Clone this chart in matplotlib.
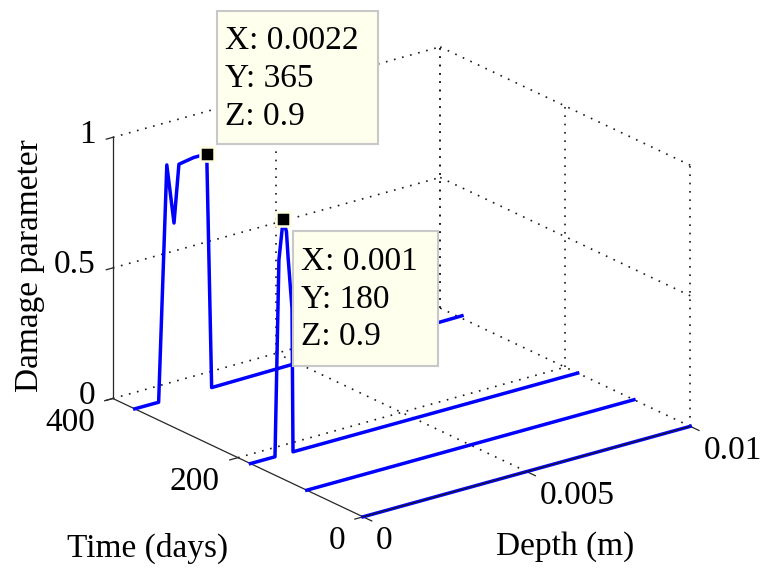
import numpy as np
import matplotlib
matplotlib.use('Agg')
import matplotlib.pyplot as plt
from matplotlib.patches import Rectangle
from mpl_toolkits.mplot3d import proj3d

plt.rcParams['font.family'] = ['Liberation Serif', 'DejaVu Serif']

W_PX, H_PX = 761, 574
FONT_SIZE = 24

# damage profiles over depth, one line per time level (days)
times = [0, 90, 180, 365]
depth_0 = [0.0, 0.01]
damage_0 = [0.0, 0.0]
depth_90 = [0.0, 0.01]
damage_90 = [0.0, 0.0]
depth_180 = [0.0, 0.00075, 0.00087, 0.001, 0.0011, 0.00115, 0.00127, 0.0013, 0.01]
damage_180 = [0.0, 0.0, 0.75, 0.9, 0.85, 0.75, 0.55, 0.0, 0.0]
depth_365 = [0.0, 0.00073, 0.00098, 0.0012, 0.00135, 0.0018, 0.0022, 0.00235, 0.01]
damage_365 = [0.0, 0.0, 0.9, 0.67, 0.89, 0.9, 0.9, 0.0, 0.01]

# data tips
tip_x = [0.0022, 0.001]
tip_y = [365, 180]
tip_z = [0.9, 0.9]

x_ticks = [0, 0.005, 0.01]
x_tick_labels = ['0', '0.005', '0.01']
y_ticks = [0, 200, 400]
y_tick_labels = ['0', '200', '400']
z_ticks = [0, 0.5, 1]
z_tick_labels = ['0', '0.5', '1']

x_hi, y_hi, z_hi = x_ticks[-1], y_ticks[-1], z_ticks[-1]

fig = plt.figure(figsize=(W_PX / 100, H_PX / 100), dpi=100)
ax = fig.add_axes([0, 0, 1, 1], projection='3d', computed_zorder=False)
ax.set_proj_type('ortho')
ax.view_init(elev=21.2, azim=-127.4)
ax.set_box_aspect((1, 1, 0.68))
ax.set_xlim(0, x_hi)
ax.set_ylim(0, y_hi)
ax.set_zlim(0, z_hi)
ax.set_axis_off()
ax.patch.set_visible(False)
fig.canvas.draw()


def to_axes_frac(x, y, z):
    xs, ys, _ = proj3d.proj_transform(np.atleast_1d(np.asarray(x, float)),
                                      np.atleast_1d(np.asarray(y, float)),
                                      np.atleast_1d(np.asarray(z, float)),
                                      ax.get_proj())
    disp = ax.transData.transform(np.column_stack([xs, ys]))
    return ax.transAxes.inverted().transform(disp)


# place the box so its front corners land where we want them (pixels from top-left)
corners = np.array([[0, 0, 0], [x_hi, 0, 0], [0, y_hi, 0], [0, y_hi, z_hi]], float)
target = np.array([[363, 517], [690, 428], [113, 397], [113, 137]], float)
target[:, 1] = H_PX - target[:, 1]
uv = to_axes_frac(*corners.T)
du = uv - uv.mean(0)
dt = target - target.mean(0)
side = (du * dt).sum() / (du ** 2).sum()
x0, y0 = target.mean(0) - side * uv.mean(0)
ax.set_position([x0 / W_PX, y0 / H_PX, side / W_PX, side / H_PX])


def to_px(x, y, z):
    f = to_axes_frac(x, y, z)
    return np.column_stack([x0 + side * f[:, 0], H_PX - (y0 + side * f[:, 1])])


def fig_text(px, py, s, **kw):
    return fig.text(px / W_PX, 1 - py / H_PX, s, fontsize=FONT_SIZE, **kw)


# dotted grid on the floor and the two back walls
grid_kw = dict(color='0.1', lw=1.2, ls=(0, (1, 4)), zorder=1, clip_on=False)
for xv in x_ticks[1:]:
    ax.plot([xv, xv], [0, y_hi], [0, 0], **grid_kw)
    ax.plot([xv, xv], [y_hi, y_hi], [0, z_hi], **grid_kw)
for yv in y_ticks:
    if yv > 0:
        ax.plot([0, x_hi], [yv, yv], [0, 0], **grid_kw)
    ax.plot([x_hi, x_hi], [yv, yv], [0, z_hi], **grid_kw)
for zv in z_ticks[1:]:
    ax.plot([0, x_hi], [y_hi, y_hi], [zv, zv], **grid_kw)
    ax.plot([x_hi, x_hi], [0, y_hi], [zv, zv], **grid_kw)

# solid axis lines and tick marks
axis_kw = dict(color='0.15', lw=0.9, zorder=2, clip_on=False)
ax.plot([0, 0], [0, y_hi], [0, 0], **axis_kw)
ax.plot([0, 0], [y_hi, y_hi], [0, z_hi], **axis_kw)
for xv in x_ticks:
    ax.plot([xv, xv], [0, -14], [0, 0], **axis_kw)
for yv in y_ticks:
    ax.plot([0, -0.00025], [yv, yv], [0, 0], **axis_kw)
for zv in z_ticks:
    ax.plot([0, -0.0002], [y_hi, y_hi], [zv, zv], **axis_kw)

# damage profiles
profiles = [(depth_0, damage_0), (depth_90, damage_90),
            (depth_180, damage_180), (depth_365, damage_365)]
for t, (d, dmg) in zip(times, profiles):
    ax.plot(d, np.full(len(d), t), dmg, color='#0000ff', lw=2.5,
            zorder=3, clip_on=False)

# the depth axis line sits on top of the t = 0 profile
ax.plot([0, x_hi], [0, 0], [0, 0], color='0.1', lw=0.8, zorder=4, clip_on=False)

ax.plot(tip_x, tip_y, tip_z, ls='none', marker='s', ms=10, mfc='k',
        mec='#ffffe0', mew=1.8, zorder=5, clip_on=False)

# tick labels
for (px, py), lab in zip(to_px(x_ticks, [0] * 3, [0] * 3), x_tick_labels):
    fig_text(px + 13, py + 24, lab, ha='left', va='center')
for (px, py), lab in zip(to_px([0] * 3, y_ticks, [0] * 3), y_tick_labels):
    fig_text(px - 18, py + 24, lab, ha='right', va='center')
for (px, py), lab in zip(to_px([0] * 3, [y_hi] * 3, z_ticks), z_tick_labels):
    fig_text(px - 17, py - 3, lab, ha='right', va='center')

# axis titles
px, py = to_px(x_hi / 2, 0, 0)[0]
fig_text(px + 38, py + 75, 'Depth (m)', ha='center', va='center')
px, py = to_px(0, y_hi / 2, 0)[0]
fig_text(px - 90, py + 91, 'Time (days)', ha='center', va='center')
px, py = to_px(0, y_hi, z_hi / 2)[0]
fig_text(px - 83, py - 2, 'Damage parameter', ha='center', va='center',
         rotation=90)

# data tip boxes: first one above-right of its marker, second below-right
tip_boxes = [(10, -10, 161, 133, 'above'), (10, 12, 145, 135, 'below')]
tip_px = to_px(tip_x, tip_y, tip_z)
for (mx, my), xv, yv, zv, (dx, dy, bw, bh, place) in zip(
        tip_px, tip_x, tip_y, tip_z, tip_boxes):
    left = mx + dx
    top = my + dy - bh if place == 'above' else my + dy
    fig.add_artist(Rectangle((left / W_PX, 1 - (top + bh) / H_PX),
                             bw / W_PX, bh / H_PX, transform=fig.transFigure,
                             fc='#ffffee', ec='#c8c8c8', lw=1.5, zorder=6))
    fig_text(left + 8, top + 15, f'X: {xv:g}\nY: {yv:g}\nZ: {zv:g}',
             ha='left', va='top', linespacing=1.3, zorder=7)

fig.savefig('out.png', dpi=100)
